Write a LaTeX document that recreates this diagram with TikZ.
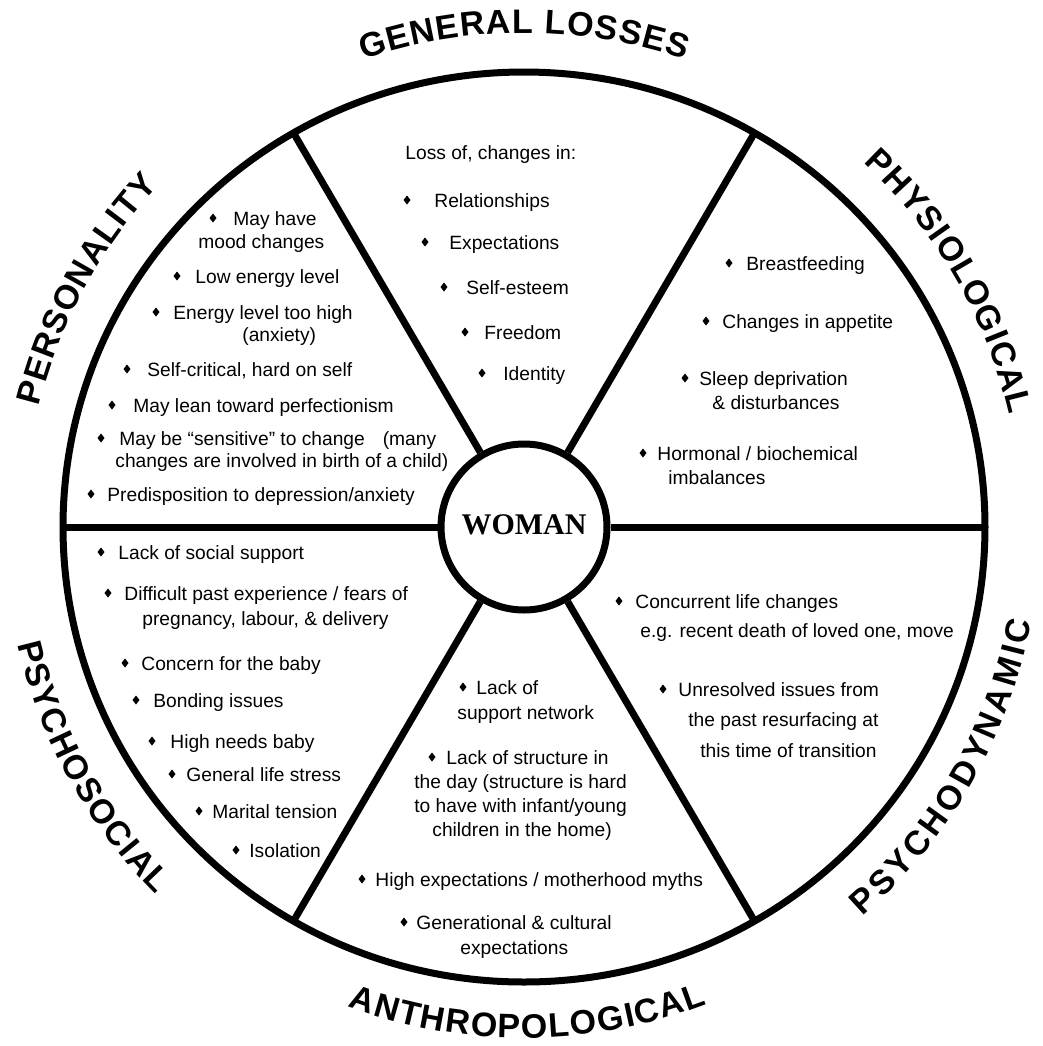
\documentclass[tikz,border=0pt]{standalone}
\usepackage{fontspec}
\setmainfont{Liberation Sans}
\newfontfamily\wfont{Liberation Serif}
\usetikzlibrary{decorations.text,calc}
\newcommand{\lbl}{\bfseries\fontsize{17}{19}\selectfont}
% small diamond bullet, #1 = x, #2 = baseline of its line
\newcommand{\bul}[2]{\fill (#1,#2-7) +(0,4.5) -- +(3.5,0) -- +(0,-4.5) -- +(-3.5,0) -- cycle;}
\tikzset{
  txt/.style={anchor=base west, inner sep=0pt, font=\fontsize{9.6}{12}\selectfont},
  rim/.style={line width=3.5pt},
  arclabel/.style={decorate, decoration={text along path, text align={fit to path}, text={|\lbl|#1}}}
}
\begin{document}
\begin{tikzpicture}[x=0.5pt, y=-0.5pt]
    \useasboundingbox (0,0) rectangle (1043,1046);
    \coordinate (ctr) at (524,527);
    % wheel
    \draw[rim] (ctr) ellipse [x radius=230.5pt, y radius=227.5pt];
    \node[circle, draw, line width=3.5pt, minimum size=83pt, inner sep=0pt,
          font=\wfont\bfseries\fontsize{15}{15}\selectfont] (woman) at (ctr) {\raisebox{2pt}{WOMAN}};
    \foreach \a in {0,60,...,300} {
        \coordinate (r\a) at ($(ctr)+(\a:230.5pt and 227.5pt)$);
        \draw[rim] (r\a) -- (woman);
    }
    % curved headings
    \path[arclabel=GENERAL LOSSES] (ctr) ++(109:247pt) arc[start angle=109, end angle=71, radius=247pt];
    \path[arclabel=PHYSIOLOGICAL] (ctr) ++(47:249pt) arc[start angle=47, end angle=13, radius=249pt];
    \path[arclabel=PERSONALITY] (ctr) ++(166:250pt) arc[start angle=166, end angle=137, radius=250pt];
    \path[arclabel=ANTHROPOLOGICAL] (ctr) ++(249.8:255.5pt) arc[start angle=249.8, end angle=291, radius=255.5pt];
    \path[arclabel=PSYCHODYNAMIC] (ctr) ++(311:258pt) arc[start angle=311, end angle=349.5, radius=258pt];
    \path[arclabel=PSYCHOSOCIAL] (ctr) ++(193:260pt) arc[start angle=193, end angle=225, radius=260pt];
    % general losses
    \node[txt] (gl0) at (405,159) {Loss of, changes in:};
    \bul{407}{207} \node[txt] (gl1) at (434,207) {Relationships};
    \bul{425}{249} \node[txt] (gl2) at (449,249) {Expectations};
    \bul{444}{294} \node[txt] (gl3) at (466,294) {Self-esteem};
    \bul{465}{339} \node[txt] (gl4) at (484,339) {Freedom};
    \bul{482}{380} \node[txt] (gl5) at (503,380) {Identity};
    % physiological
    \bul{729}{270} \node[txt] (ph1) at (746,270) {Breastfeeding};
    \bul{706}{328} \node[txt] (ph2) at (722,328) {Changes in appetite};
    \bul{685}{385} \node[txt] (ph3) at (699,385) {Sleep deprivation};
    \node[txt] (ph3b) at (712,409) {\& disturbances};
    \bul{643}{460} \node[txt] (ph4) at (657,460) {Hormonal / biochemical};
    \node[txt] (ph4b) at (668,484) {imbalances};
    % personality
    \bul{213}{225} \node[txt] (pe1) at (233,225) {May have};
    \node[txt] (pe1b) at (198,248) {mood changes};
    \bul{177}{283} \node[txt] (pe2) at (195,283) {Low energy level};
    \bul{156}{319} \node[txt] (pe3) at (173,319) {Energy level too high};
    \node[txt] (pe3b) at (242,341) {(anxiety)};
    \bul{127}{376} \node[txt] (pe4) at (147,376) {Self-critical, hard on self};
    \bul{112}{412} \node[txt] (pe5) at (133,412) {May lean toward perfectionism};
    \bul{101}{445} \node[txt] (pe6) at (119,445) {May be “sensitive” to change\hspace{9pt}(many};
    \node[txt] (pe6b) at (115,467) {changes are involved in birth of a child)};
    \bul{91}{501} \node[txt] (pe7) at (107,501) {Predisposition to depression/anxiety};
    % psychosocial
    \bul{101}{559} \node[txt] (ps1) at (118,559) {Lack of social support};
    \bul{108}{600} \node[txt] (ps2) at (124,600) {Difficult past experience / fears of};
    \node[txt] (ps2b) at (142,625) {pregnancy, labour, \& delivery};
    \bul{125}{670} \node[txt] (ps3) at (141,670) {Concern for the baby};
    \bul{136}{707} \node[txt] (ps4) at (153,707) {Bonding issues};
    \bul{152}{748} \node[txt] (ps5) at (170,748) {High needs baby};
    \bul{172}{781} \node[txt] (ps6) at (186,781) {General life stress};
    \bul{199}{818} \node[txt] (ps7) at (212,818) {Marital tension};
    \bul{236}{857} \node[txt] (ps8) at (249,857) {Isolation};
    % anthropological
    \bul{463}{694} \node[txt] (an1) at (476,694) {Lack of};
    \node[txt] (an1b) at (457,719) {support network};
    \bul{432}{764} \node[txt] (an2) at (446,764) {Lack of structure in};
    \node[txt] (an2b) at (414,788) {the day (structure is hard};
    \node[txt] (an2c) at (414,812) {to have with infant/young};
    \node[txt] (an2d) at (432,836) {children in the home)};
    \bul{362}{886} \node[txt] (an3) at (375,886) {High expectations / motherhood myths};
    \bul{404}{929} \node[txt] (an4) at (416,929) {Generational \& cultural};
    \node[txt] (an4b) at (460,954) {expectations};
    % psychodynamic
    \bul{619}{608} \node[txt] (pd1) at (635,608) {Concurrent life changes};
    \node[txt] (pd1b) at (640,637) {e.g. recent death of loved one, move};
    \bul{663}{696} \node[txt] (pd2) at (678,696) {Unresolved issues from};
    \node[txt] (pd2b) at (688,726) {the past resurfacing at};
    \node[txt] (pd2c) at (700,757) {this time of transition};
\end{tikzpicture}
\end{document}
